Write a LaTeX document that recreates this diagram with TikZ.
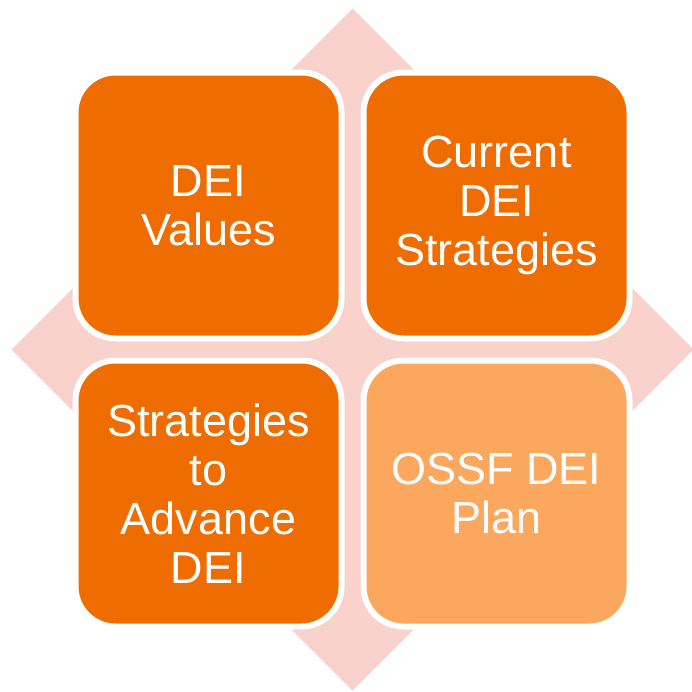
\documentclass[tikz,border=0pt]{standalone}
\usepackage{fontspec}
\setmainfont{Liberation Sans}
\usetikzlibrary{positioning}
\definecolor{deiOrange}{RGB}{238,108,0}
\definecolor{deiLight}{RGB}{252,167,94}
\definecolor{deiPink}{RGB}{248,210,203}
\newcommand{\boxSize}[0]{266pt}
\newcommand{\boxGap}[0]{22pt}
\newcommand{\boxFont}[0]{\fontsize{45}{49}\selectfont}

\begin{document}
\begin{tikzpicture}[x=1pt, y=-1pt]
  \tikzset{quad/.style={draw=white, line width=6pt, fill=deiOrange, rounded corners=40pt,
      minimum width=\boxSize, minimum height=\boxSize, inner sep=0pt, outer sep=0pt,
      text=white, align=center, font=\boxFont}}
  \useasboundingbox (0,0) rectangle (692,691);
  % backdrop
  \coordinate (mid) at (352.5,349.5);
  \fill[deiPink] ([yshift=-341pt]mid) -- ([xshift=341pt]mid) -- ([yshift=341pt]mid)
    -- ([xshift=-341pt]mid) -- cycle;
  % the four boxes
  \node[quad] (values) at (208.5,205.5) {DEI\\Values};
  \node[quad, right=\boxGap of values] (current) {Current\\DEI\\Strategies};
  \node[quad, below=\boxGap of values] (advance) {Strategies\\to\\Advance\\DEI};
  \node[quad, fill=deiLight, right=\boxGap of advance] (plan) {OSSF DEI\\Plan};
\end{tikzpicture}
\end{document}
